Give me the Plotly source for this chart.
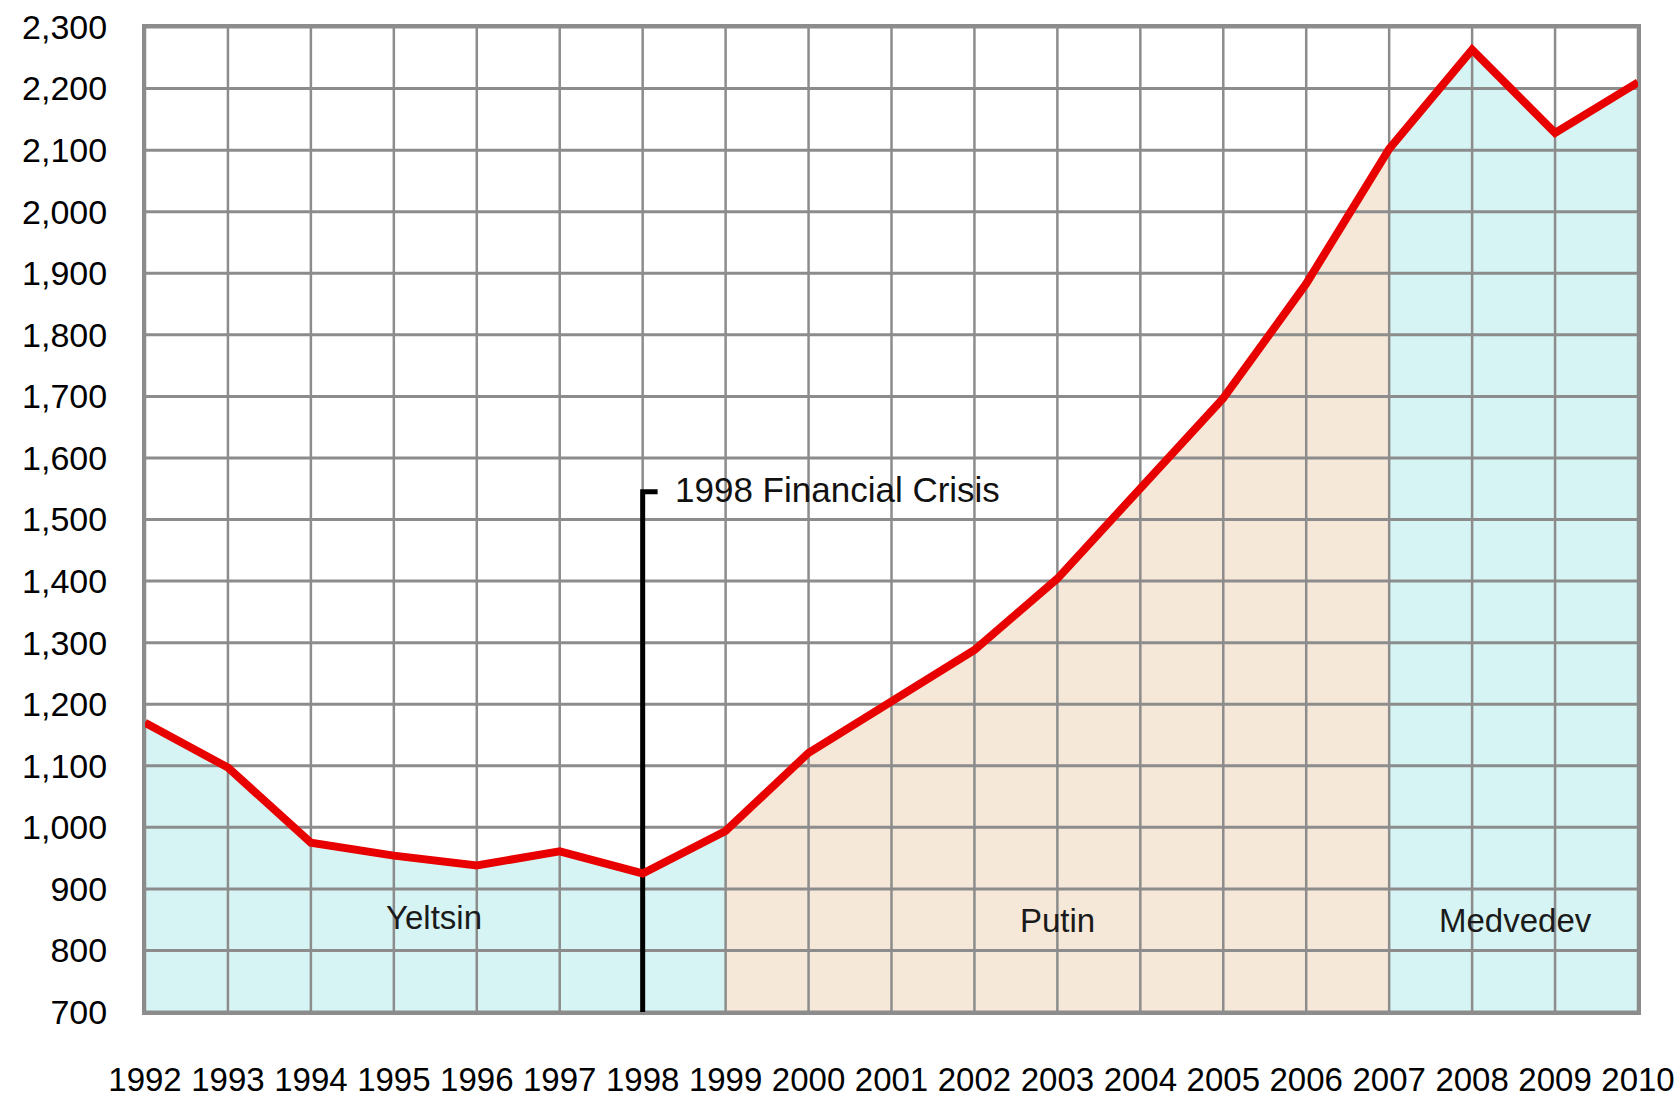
import plotly.graph_objects as go

# ---- data ----
years = [1992, 1993, 1994, 1995, 1996, 1997, 1998, 1999, 2000, 2001,
         2002, 2003, 2004, 2005, 2006, 2007, 2008, 2009, 2010]
values = [1170, 1097, 975, 954, 938, 961, 925, 994, 1121, 1204,
          1288, 1404, 1552, 1697, 1883, 2102, 2263, 2128, 2210]

y_tick_vals = [700, 800, 900, 1000, 1100, 1200, 1300, 1400, 1500, 1600,
               1700, 1800, 1900, 2000, 2100, 2200, 2300]
y_tick_text = ["700", "800", "900", "1,000", "1,100", "1,200", "1,300", "1,400",
               "1,500", "1,600", "1,700", "1,800", "1,900", "2,000", "2,100",
               "2,200", "2,300"]
x_tick_text = [str(y) for y in years]

# presidencies: (name, start year, end year, label x, label y)
periods = [
    ("Yeltsin", 1992, 1999, 1995.48, 853),
    ("Putin", 1999, 2007, 2003.0, 848),
    ("Medvedev", 2007, 2010, 2008.52, 848),
]
period_colors = ["#d6f4f4", "#f5e8d8", "#d6f4f4"]

crisis_year = 1998
crisis_top = 1545
crisis_label = "1998 Financial Crisis"
crisis_label_x = 1998.36
crisis_label_y = 1549

Y_MIN, Y_MAX = 700, 2300
X_MIN, X_MAX = years[0], years[-1]

FONT = "Liberation Sans, Arial, sans-serif"
GRID = "#8c8c8c"

fig = go.Figure()

# period fills
for (name, start, end, lx, ly), col in zip(periods, period_colors):
    xs = [x for x in years if start <= x <= end]
    ys = [v for x, v in zip(years, values) if start <= x <= end]
    fig.add_trace(go.Scatter(x=xs, y=ys, mode="lines", line=dict(width=0),
                             fill="tozeroy", fillcolor=col, hoverinfo="skip",
                             showlegend=False))

# grid lines (drawn above fills, below data line)
gx, gy = [], []
for x in years:
    gx += [x, x, None]
    gy += [Y_MIN, Y_MAX, None]
fig.add_trace(go.Scatter(x=gx, y=gy, mode="lines", line=dict(color=GRID, width=2.5),
                         hoverinfo="skip", showlegend=False))
hx, hy = [], []
for v in y_tick_vals:
    hx += [X_MIN, X_MAX, None]
    hy += [v, v, None]
fig.add_trace(go.Scatter(x=hx, y=hy, mode="lines", line=dict(color=GRID, width=3),
                         hoverinfo="skip", showlegend=False))

# crisis marker
fig.add_trace(go.Scatter(x=[crisis_year, crisis_year, crisis_year + 0.18],
                         y=[Y_MIN, crisis_top, crisis_top], mode="lines",
                         line=dict(color="black", width=5),
                         hoverinfo="skip", showlegend=False))

# main line
fig.add_trace(go.Scatter(x=years, y=values, mode="lines",
                         line=dict(color="#e80000", width=8),
                         showlegend=False))

fig.add_annotation(x=crisis_label_x, y=crisis_label_y, text=crisis_label,
                   showarrow=False, xanchor="left", yanchor="middle",
                   font=dict(family=FONT, size=35, color="#111111"))
for name, start, end, lx, ly in periods:
    fig.add_annotation(x=lx, y=ly, text=name, showarrow=False,
                       xanchor="center", yanchor="middle",
                       font=dict(family=FONT, size=33, color="#1a1a1a"))

fig.update_layout(
    width=1679, height=1099,
    margin=dict(l=145, r=41, t=27, b=87),
    paper_bgcolor="white", plot_bgcolor="white",
    showlegend=False,
    font=dict(family=FONT, color="black"),
)
fig.update_xaxes(range=[X_MIN, X_MAX], tickvals=years, ticktext=x_tick_text,
                 showgrid=False, zeroline=False,
                 showline=True, mirror=True, linecolor=GRID, linewidth=3,
                 ticks="outside", ticklen=36, tickcolor="rgba(0,0,0,0)",
                 tickfont=dict(family=FONT, size=33, color="black"),
                 automargin=False)
fig.update_yaxes(range=[Y_MIN, Y_MAX], tickvals=y_tick_vals, ticktext=y_tick_text,
                 showgrid=False, zeroline=False,
                 showline=True, mirror=True, linecolor=GRID, linewidth=3,
                 ticks="outside", ticklen=28, tickcolor="rgba(0,0,0,0)",
                 tickfont=dict(family=FONT, size=34, color="black"),
                 automargin=False)

fig.write_html("out.html", config={"displayModeBar": False},
               post_script="document.body.style.margin='0';document.body.style.overflow='hidden';")
